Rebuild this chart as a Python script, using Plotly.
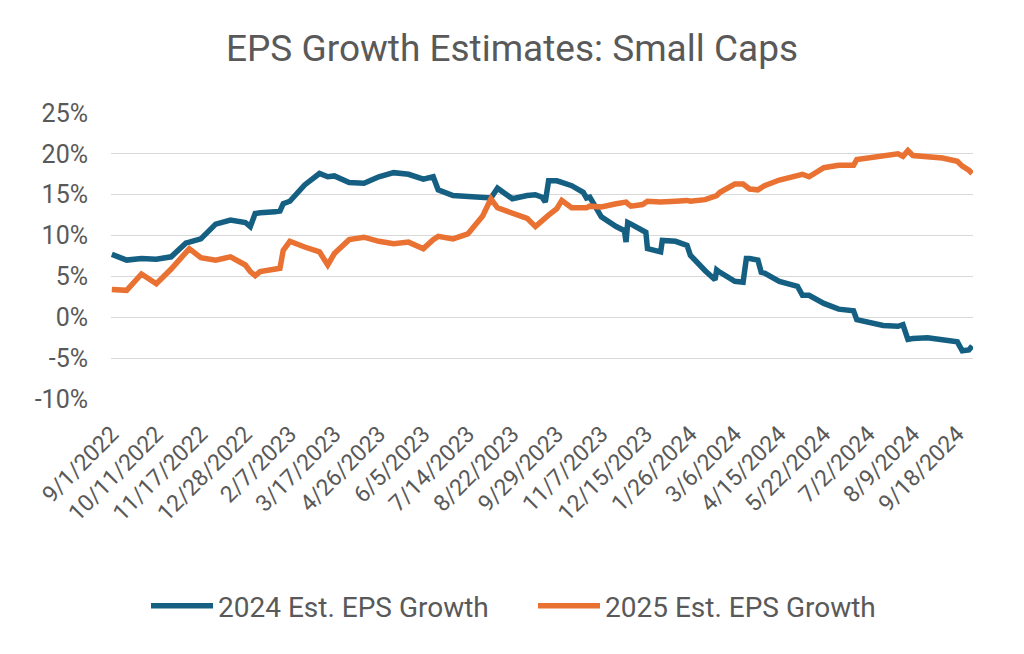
import plotly.graph_objects as go

# Trading dates sampled from the chart
dates = [
    "2022-09-01", "2022-09-15", "2022-09-28", "2022-10-11", "2022-10-24", "2022-11-04", "2022-11-08",
    "2022-11-17", "2022-12-01", "2022-12-14", "2022-12-28", "2023-01-03", "2023-01-06", "2023-01-11",
    "2023-01-25", "2023-01-30", "2023-02-01", "2023-02-07", "2023-02-21", "2023-03-06", "2023-03-13",
    "2023-03-17", "2023-03-30", "2023-04-13", "2023-04-26", "2023-05-09", "2023-05-22", "2023-06-05",
    "2023-06-13", "2023-06-16", "2023-06-30", "2023-07-14", "2023-07-27", "2023-08-03", "2023-08-09",
    "2023-08-22", "2023-09-05", "2023-09-12", "2023-09-18", "2023-09-20", "2023-09-22", "2023-09-29",
    "2023-10-04", "2023-10-12", "2023-10-23", "2023-10-25", "2023-10-27", "2023-11-07", "2023-11-20",
    "2023-11-28", "2023-11-29", "2023-11-30", "2023-12-04", "2023-12-13", "2023-12-15", "2023-12-18",
    "2023-12-29", "2024-01-02", "2024-01-12", "2024-01-24", "2024-01-26", "2024-02-08", "2024-02-16",
    "2024-02-20", "2024-02-22", "2024-03-06", "2024-03-13", "2024-03-15", "2024-03-19", "2024-03-26",
    "2024-03-28", "2024-04-02", "2024-04-15", "2024-04-30", "2024-05-03", "2024-05-09", "2024-05-22",
    "2024-06-05", "2024-06-18", "2024-06-21", "2024-07-02", "2024-07-16", "2024-07-29", "2024-08-01",
    "2024-08-06", "2024-08-09", "2024-08-22", "2024-09-05", "2024-09-18", "2024-09-23", "2024-09-27",
    "2024-10-01",
]

eps_2024 = [
    7.7, 7.0, 7.2, 7.1, 7.4, 9.1, 9.2,
    9.6, 11.4, 11.9, 11.6, 11.1, 12.7, 12.8,
    12.9, 13.0, 13.9, 14.2, 16.2, 17.6, 17.2,
    17.3, 16.5, 16.4, 17.2, 17.7, 17.5, 16.9,
    17.2, 15.6, 14.9, 14.8, 14.6, 14.6, 15.8,
    14.5, 14.9, 15.0, 14.7, 14.1, 16.7, 16.7,
    16.5, 16.1, 15.3, 14.6, 14.7, 12.3, 11.1,
    10.6, 9.2, 11.6, 11.4, 10.6, 10.4, 8.4,
    8.0, 9.4, 9.3, 8.8, 7.6, 5.7, 4.6,
    5.8, 5.5, 4.4, 4.3, 7.2, 7.2, 7.0,
    5.5, 5.4, 4.4, 3.8, 2.7, 2.7, 1.7,
    1.0, 0.8, -0.3, -0.6, -1.0, -1.1, -0.9,
    -2.7, -2.6, -2.5, -2.7, -3.0, -4.1, -4.0,
    -3.5,
]

eps_2025 = [
    3.4, 3.3, 5.3, 4.1, 5.9, 7.8, 8.4,
    7.3, 7.0, 7.4, 6.4, 5.6, 5.1, 5.6,
    5.9, 6.0, 8.2, 9.3, 8.6, 8.0, 6.4,
    7.8, 9.5, 9.8, 9.3, 9.0, 9.2, 8.4,
    9.5, 9.9, 9.6, 10.2, 12.4, 14.5, 13.4,
    12.8, 12.1, 11.1, 11.9, 12.3, 12.5, 13.3,
    14.3, 13.4, 13.3, 13.4, 13.6, 13.5, 13.9,
    14.0, 14.1, 13.9, 13.6, 13.8, 14.0, 14.2,
    14.1, 14.1, 14.2, 14.3, 14.2, 14.4, 14.8,
    14.9, 15.3, 16.3, 16.3, 16.0, 15.7, 15.6,
    15.9, 16.1, 16.8, 17.3, 17.5, 17.2, 18.3,
    18.6, 18.6, 19.3, 19.5, 19.9, 20.0, 19.7,
    20.4, 19.8, 19.6, 19.5, 19.1, 18.5, 18.0,
    17.6,
]

tick_dates = [
    "2022-09-01", "2022-10-11", "2022-11-17", "2022-12-28", "2023-02-07", "2023-03-17", "2023-04-26",
    "2023-06-05", "2023-07-14", "2023-08-22", "2023-09-29", "2023-11-07", "2023-12-15", "2024-01-26",
    "2024-03-06", "2024-04-15", "2024-05-22", "2024-07-02", "2024-08-09", "2024-09-18",
]
tick_labels = [
    "9/1/2022", "10/11/2022", "11/17/2022", "12/28/2022", "2/7/2023", "3/17/2023", "4/26/2023",
    "6/5/2023", "7/14/2023", "8/22/2023", "9/29/2023", "11/7/2023", "12/15/2023", "1/26/2024",
    "3/6/2024", "4/15/2024", "5/22/2024", "7/2/2024", "8/9/2024", "9/18/2024",
]

market_holidays = [
    "2022-09-05", "2022-11-24", "2022-12-26", "2023-01-02", "2023-01-16", "2023-02-20", "2023-04-07",
    "2023-05-29", "2023-06-19", "2023-07-04", "2023-09-04", "2023-11-23", "2023-12-25", "2024-01-01",
    "2024-01-15", "2024-02-19", "2024-03-29", "2024-05-27", "2024-06-19", "2024-07-04", "2024-09-02",
]

y_ticks = [-10, -5, 0, 5, 10, 15, 20, 25]
y_labels = ["-10%", "-5%", "0%", "5%", "10%", "15%", "20%", "25%"]

FONT = "Roboto"
GREY = "#595959"
BLUE = "#156082"
ORANGE = "#E97132"

fig = go.Figure()
fig.add_trace(go.Scatter(x=dates, y=eps_2024, mode="lines", name="2024 Est. EPS Growth",
                         line=dict(color=BLUE, width=5.5)))
fig.add_trace(go.Scatter(x=dates, y=eps_2025, mode="lines", name="2025 Est. EPS Growth",
                         line=dict(color=ORANGE, width=5.5)))

fig.update_layout(
    width=1024, height=654,
    paper_bgcolor="white", plot_bgcolor="white",
    margin=dict(l=103, r=59, t=105, b=263, autoexpand=False),
    title=dict(text="EPS Growth Estimates: Small Caps", x=504 / 1024, xanchor="center",
               xref="container", yref="container", y=1 - 40 / 654, yanchor="middle",
               font=dict(family=FONT, size=37, color=GREY)),
    font=dict(family=FONT, color=GREY),
    showlegend=True,
    legend=dict(orientation="h", xref="container", yref="container",
                x=0.5127, xanchor="center", y=1 - 598 / 654, yanchor="middle",
                font=dict(family=FONT, size=28, color=GREY),
                itemwidth=62, entrywidth=310, bgcolor="rgba(0,0,0,0)"),
)

fig.update_xaxes(
    type="date", automargin=False,
    range=["2022-08-31 12:00", "2024-10-01 12:00"],
    rangebreaks=[dict(bounds=["sat", "mon"]), dict(values=market_holidays)],
    tickmode="array", tickvals=tick_dates, ticktext=tick_labels,
    tickangle=-45, tickfont=dict(family=FONT, size=23, color=GREY),
    showgrid=False, showline=False, zeroline=False, ticks="",
    ticklabelstandoff=16,
)
fig.update_yaxes(
    automargin=False,
    range=[-10, 25], tickmode="array", tickvals=y_ticks, ticktext=y_labels,
    showgrid=True, gridcolor="#D9D9D9", gridwidth=1.3, zeroline=False, showline=False,
    tickfont=dict(family=FONT, size=25, color=GREY), ticks="",
    ticklabelstandoff=22,
)

fig.write_html("out.html")
